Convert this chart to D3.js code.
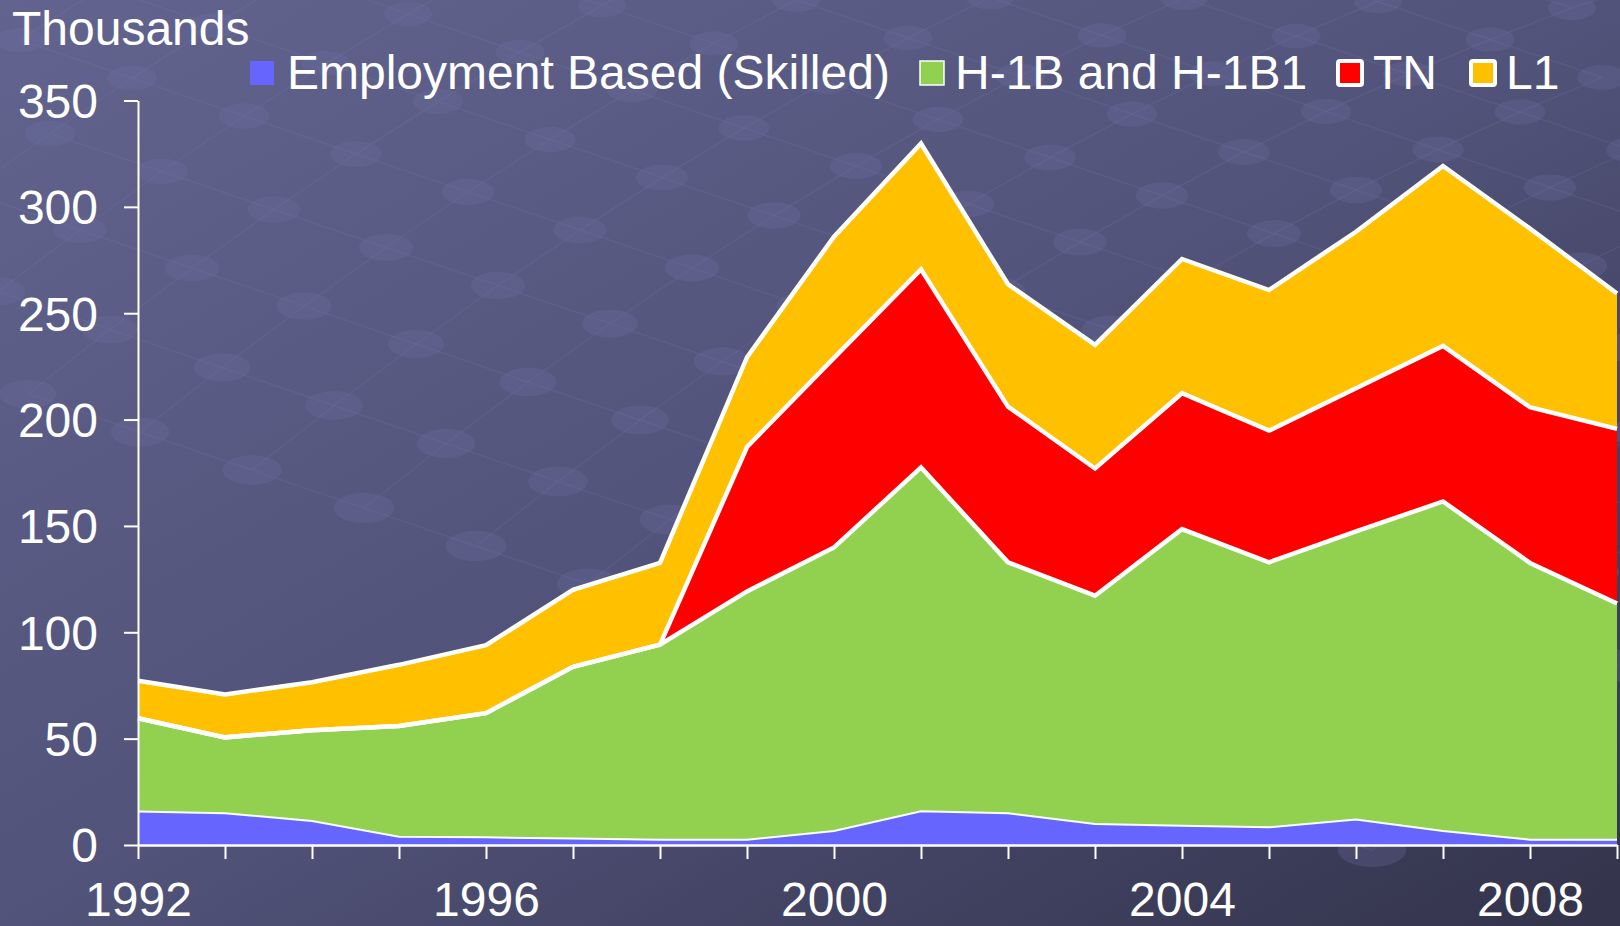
<!DOCTYPE html>
<html>
<head>
<meta charset="utf-8">
<script src="https://cdn.jsdelivr.net/npm/d3@7"></script>
<style>
  body { margin: 0; background: #4f5078; }
  svg { display: block; }
  text { font-family: "Liberation Sans", Arial, sans-serif; fill: #fff; }
</style>
</head>
<body>
<svg id="chart"></svg>
<script>
// values, in thousands
const years = [1992, 1993, 1994, 1995, 1996, 1997, 1998, 1999, 2000, 2001, 2002, 2003, 2004, 2005, 2006, 2007, 2008, 2009];
const employment = [15.8, 14.9, 11.3, 3.9, 3.6, 3.0, 2.5, 2.5, 6.6, 15.9, 14.9, 9.9, 9.1, 8.3, 12.0, 6.6, 2.5, 2.5];
const h1b = [43.8, 35.7, 42.7, 52.0, 58.4, 80.8, 91.7, 116.7, 133.3, 161.6, 118.0, 107.3, 139.4, 124.6, 135.4, 154.9, 130.1, 111.0];
const tn = [0, 0, 0, 0, 0, 0, 0, 67.9, 89.1, 93.1, 73.2, 59.8, 63.9, 61.9, 67.3, 73.1, 73.2, 82.1];
const l1 = [17.6, 20.2, 22.5, 28.8, 31.9, 36.2, 38.4, 42.2, 57.0, 59.2, 57.5, 58.1, 63.1, 66.1, 73.6, 84.6, 84.0, 63.7];

const seriesKeys = ["emp", "h1b", "tn", "l1"];
const seriesNames = ["Employment Based (Skilled)", "H-1B and H-1B1", "TN", "L1"];
const seriesColors = ["#6666ff", "#92d050", "#ff0000", "#ffc000"];
const yTicks = [0, 50, 100, 150, 200, 250, 300, 350];
const xLabels = [1992, 1996, 2000, 2004, 2008];

const W = 1620, H = 926;

const svg = d3.select("#chart")
  .attr("width", W)
  .attr("height", H);

// background
const defs = svg.append("defs");
const grad = defs.append("linearGradient")
  .attr("id", "bg")
  .attr("x1", 0).attr("y1", 0)
  .attr("x2", 1).attr("y2", 1);
grad.append("stop").attr("offset", "0%").attr("stop-color", "#62648f");
grad.append("stop").attr("offset", "50%").attr("stop-color", "#51537a");
grad.append("stop").attr("offset", "100%").attr("stop-color", "#33334b");

svg.append("rect")
  .attr("width", W)
  .attr("height", H)
  .attr("fill", "url(#bg)");

// faint molecule lattice behind the chart
{
  const deco = svg.append("g");
  const nodes = [];
  for (let i = -4; i < 16; i++) {
    for (let j = -4; j < 16; j++) {
      const x = 20 + i * 112 + j * 82;
      const y = 40 + i * 38 - j * 54 + j * j * 1.5;
      if (x > -60 && x < W + 60 && y > -40 && y < H + 40) nodes.push({i, j, x, y});
    }
  }
  const byKey = {};
  nodes.forEach(n => { byKey[n.i + "," + n.j] = n; });
  nodes.forEach(n => {
    [[1, 0], [0, 1]].forEach(([di, dj]) => {
      const m = byKey[(n.i + di) + "," + (n.j + dj)];
      if (m) deco.append("line")
        .attr("x1", n.x).attr("y1", n.y)
        .attr("x2", m.x).attr("y2", m.y)
        .attr("stroke", "#7c7eac")
        .attr("stroke-opacity", 0.18)
        .attr("stroke-width", 1.5);
    });
  });
  deco.selectAll("ellipse")
    .data(nodes)
    .join("ellipse")
    .attr("cx", d => d.x)
    .attr("cy", d => d.y)
    .attr("rx", d => 24 + d.y * 0.012)
    .attr("ry", d => 12 + d.y * 0.006)
    .attr("fill", "#6e70a0")
    .attr("fill-opacity", 0.28);
}

const x = d3.scaleLinear()
  .domain([1992, 2009])
  .range([138, 1617]);

const y = d3.scaleLinear()
  .domain([0, 350])
  .range([845, 100.5]);

const table = years.map((yr, i) => ({
  year: yr, emp: employment[i], h1b: h1b[i], tn: tn[i], l1: l1[i]
}));

const stack = d3.stack().keys(seriesKeys);
const layers = stack(table);

const area = d3.area()
  .x(d => x(d.data.year))
  .y0(d => y(d[0]))
  .y1(d => y(d[1]));

const topLine = d3.line()
  .x(d => x(d.data.year))
  .y(d => y(d[1]));

svg.append("g")
  .selectAll("path")
  .data(layers)
  .join("path")
    .attr("fill", (d, i) => seriesColors[i])
    .attr("d", area);

svg.append("g")
  .selectAll("path")
  .data(layers)
  .join("path")
    .attr("fill", "none")
    .attr("stroke", "#fff")
    .attr("stroke-width", (d, i) => i === 0 ? 2 : 4.5)
    .attr("stroke-linejoin", "miter")
    .attr("d", topLine);

// y axis
const yAxis = svg.append("g")
  .attr("transform", "translate(138,0)")
  .call(d3.axisLeft(y).tickValues(yTicks).tickSize(14).tickSizeOuter(0).tickPadding(26));
yAxis.select(".domain").attr("stroke", "#fff").attr("stroke-width", 2);
yAxis.selectAll(".tick line").attr("stroke", "#fff").attr("stroke-width", 2);
yAxis.selectAll(".tick text")
  .attr("fill", "#fff")
  .attr("font-size", 48)
  .attr("font-family", "'Liberation Sans', Arial, sans-serif")
  .attr("dy", "0.35em");

// x axis
const xAxis = svg.append("g")
  .attr("transform", "translate(0,845)")
  .call(d3.axisBottom(x).tickValues(years).tickSize(14).tickSizeOuter(0)
    .tickFormat(d => xLabels.includes(d) ? d : ""));
xAxis.select(".domain").attr("stroke", "#fff").attr("stroke-width", 2.5);
xAxis.selectAll(".tick line").attr("stroke", "#fff").attr("stroke-width", 2);
xAxis.selectAll(".tick text")
  .attr("fill", "#fff")
  .attr("font-size", 48)
  .attr("font-family", "'Liberation Sans', Arial, sans-serif")
  .attr("y", 71)
  .attr("dy", 0);

svg.append("text")
  .attr("x", 12)
  .attr("y", 45)
  .attr("font-size", 48)
  .text("Thousands");

// legend
const legendX = [250, 920, 1338, 1471];
const borders = [0, 1.5, 4, 4];
const legend = svg.append("g")
  .selectAll("g")
  .data(seriesNames)
  .join("g")
    .attr("transform", (d, i) => `translate(${legendX[i]},61)`);

legend.append("rect")
  .attr("width", 24)
  .attr("height", 24)
  .attr("rx", (d, i) => borders[i] > 2 ? 2 : 0)
  .attr("fill", (d, i) => seriesColors[i])
  .attr("stroke", (d, i) => borders[i] ? "#fff" : "none")
  .attr("stroke-width", (d, i) => borders[i]);

legend.append("text")
  .attr("x", (d, i) => i === 0 ? 37 : 35)
  .attr("y", 28)
  .attr("font-size", 48)
  .text(d => d);
</script>
</body>
</html>
